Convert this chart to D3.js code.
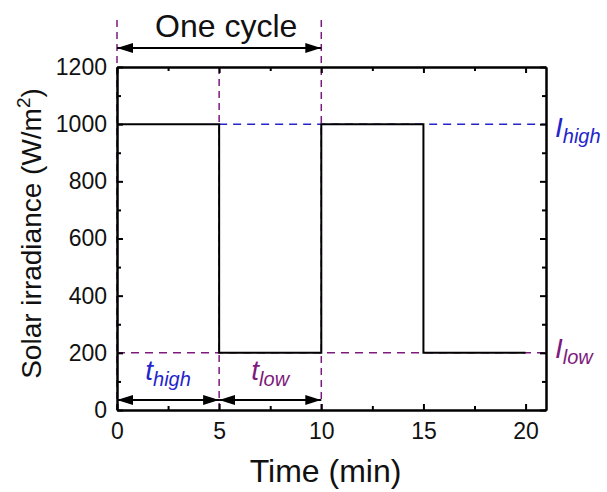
<!DOCTYPE html>
<html>
<head>
<meta charset="utf-8">
<script src="https://cdn.jsdelivr.net/npm/d3@7"></script>
<style>
  body { margin: 0; background: #fff; }
  svg { font-family: "Liberation Sans", Arial, sans-serif; display: block; }
  .axis path, .axis line { stroke: #000; stroke-width: 2; }
  .axis text { font-size: 23px; fill: #111; }
</style>
</head>
<body>
<div id="chart"></div>
<script>
// step profile of the irradiance
const timeMin = [0, 5, 5, 10, 10, 15, 15, 20];
const irradiance = [1000, 1000, 200, 200, 1000, 1000, 200, 200];
const iHigh = 1000;
const iLow = 200;
const cycleMarks = [0, 5, 10];
const xTicks = [0, 5, 10, 15, 20];
const xMinorTicks = [2.5, 7.5, 12.5, 17.5];
const yTicks = [0, 200, 400, 600, 800, 1000, 1200];
const yMinorTicks = [100, 300, 500, 700, 900, 1100];

const blue = "#2424cc";
const purple = "#7d1a7d";

const width = 607, height = 492;
const margin = { top: 67, right: 61, bottom: 82, left: 117 };
const chartWidth = width - margin.left - margin.right;
const chartHeight = height - margin.top - margin.bottom;

const root = d3.select("#chart").append("svg")
  .attr("width", width)
  .attr("height", height);

const defs = root.append("defs");
defs.append("marker")
  .attr("id", "head")
  .attr("viewBox", "0 0 10 10")
  .attr("preserveAspectRatio", "none")
  .attr("refX", 10)
  .attr("refY", 5)
  .attr("markerUnits", "userSpaceOnUse")
  .attr("markerWidth", 16)
  .attr("markerHeight", 10)
  .attr("orient", "auto-start-reverse")
  .append("path")
  .attr("d", "M0,0 L10,5 L0,10 Z")
  .attr("fill", "#000");

const svg = root.append("g")
  .attr("transform", `translate(${margin.left},${margin.top})`);

const x = d3.scaleLinear().domain([0, 21]).range([0, chartWidth]);
const y = d3.scaleLinear().domain([0, 1200]).range([chartHeight, 0]);

// dashed guide lines
svg.append("line")
  .attr("x1", x(5)).attr("x2", chartWidth)
  .attr("y1", y(iHigh)).attr("y2", y(iHigh))
  .attr("stroke", blue).attr("stroke-width", 1.5)
  .attr("stroke-dasharray", "8,6");

svg.append("line")
  .attr("x1", x(0)).attr("x2", chartWidth)
  .attr("y1", y(iLow)).attr("y2", y(iLow))
  .attr("stroke", purple).attr("stroke-width", 1.5)
  .attr("stroke-dasharray", "8,6");

// the middle mark stops at the frame so it does not cross the title
svg.selectAll(".cycle-mark")
  .data(cycleMarks)
  .enter()
  .append("line")
  .attr("class", "cycle-mark")
  .attr("x1", d => x(d)).attr("x2", d => x(d))
  .attr("y1", (d, i) => i === 1 ? 0 : -47).attr("y2", chartHeight)
  .attr("stroke", purple).attr("stroke-width", 1.5)
  .attr("stroke-dasharray", "7,5");

// the step line
const profile = timeMin.map((t, i) => ({ t: t, v: irradiance[i] }));
svg.append("path")
  .datum(profile)
  .attr("fill", "none")
  .attr("stroke", "#000")
  .attr("stroke-width", 2)
  .attr("d", d3.line().x(d => x(d.t)).y(d => y(d.v)));

// axes, ticks pointing inside
svg.append("g").attr("class", "axis")
  .attr("transform", `translate(0,${chartHeight})`)
  .call(d3.axisBottom(x).tickValues(xTicks).tickSize(-6).tickSizeOuter(0).tickPadding(13));
svg.append("g").attr("class", "axis")
  .attr("transform", `translate(0,${chartHeight})`)
  .call(d3.axisBottom(x).tickValues(xMinorTicks).tickSize(-4).tickSizeOuter(0).tickFormat(""));

svg.append("g").attr("class", "axis")
  .call(d3.axisTop(x).tickValues(xTicks).tickSize(-6).tickSizeOuter(0).tickFormat(""));
svg.append("g").attr("class", "axis")
  .call(d3.axisTop(x).tickValues(xMinorTicks).tickSize(-4).tickSizeOuter(0).tickFormat(""));

svg.append("g").attr("class", "axis")
  .call(d3.axisLeft(y).tickValues(yTicks).tickSize(-6).tickSizeOuter(0).tickPadding(10).tickFormat(d3.format("d")));
svg.append("g").attr("class", "axis")
  .call(d3.axisLeft(y).tickValues(yMinorTicks).tickSize(-4).tickSizeOuter(0).tickFormat(""));

svg.append("g").attr("class", "axis")
  .attr("transform", `translate(${chartWidth},0)`)
  .call(d3.axisRight(y).tickValues(yTicks).tickSize(-6).tickSizeOuter(0).tickFormat(""));
svg.append("g").attr("class", "axis")
  .attr("transform", `translate(${chartWidth},0)`)
  .call(d3.axisRight(y).tickValues(yMinorTicks).tickSize(-4).tickSizeOuter(0).tickFormat(""));

// axis titles
svg.append("text")
  .attr("x", chartWidth / 2 - 6)
  .attr("y", chartHeight + 72)
  .attr("text-anchor", "middle")
  .attr("font-size", 32)
  .attr("fill", "#111")
  .text("Time (min)");

const yTitle = svg.append("text")
  .attr("transform", `translate(-76,${chartHeight / 2 - 5}) rotate(-90)`)
  .attr("text-anchor", "middle")
  .attr("font-size", 28)
  .attr("fill", "#111");
yTitle.append("tspan").text("Solar irradiance (W/m");
yTitle.append("tspan").attr("font-size", 19).attr("dy", -11).text("2");
yTitle.append("tspan").attr("dy", 11).text(")");

// one cycle arrow
svg.append("line")
  .attr("x1", x(0)).attr("x2", x(10))
  .attr("y1", -19).attr("y2", -19)
  .attr("stroke", "#000").attr("stroke-width", 1.8)
  .attr("marker-start", "url(#head)")
  .attr("marker-end", "url(#head)");

svg.append("text")
  .attr("x", x(5) + 7)
  .attr("y", -30)
  .attr("text-anchor", "middle")
  .attr("font-size", 32)
  .attr("fill", "#111")
  .text("One cycle");

// t_high / t_low arrows
[[0, 5], [5, 10]].forEach(span => {
  svg.append("line")
    .attr("x1", x(span[0])).attr("x2", x(span[1]))
    .attr("y1", y(35)).attr("y2", y(35))
    .attr("stroke", "#000").attr("stroke-width", 1.8)
    .attr("marker-start", "url(#head)")
    .attr("marker-end", "url(#head)");
});

function subLabel(px, py, main, sub, color, anchor) {
  const t = svg.append("text")
    .attr("x", px).attr("y", py)
    .attr("text-anchor", anchor)
    .attr("font-style", "italic")
    .attr("fill", color)
    .attr("font-size", 28);
  t.append("tspan").text(main);
  t.append("tspan").attr("font-size", 20).attr("dy", 6).text(sub);
}

subLabel(x(2.5), 313, "t", "high", blue, "middle");
subLabel(x(7.5), 313, "t", "low", purple, "middle");
subLabel(chartWidth + 9, y(iHigh) + 13, "I", "high", blue, "start");
subLabel(chartWidth + 9, y(iLow) + 5, "I", "low", purple, "start");
</script>
</body>
</html>
